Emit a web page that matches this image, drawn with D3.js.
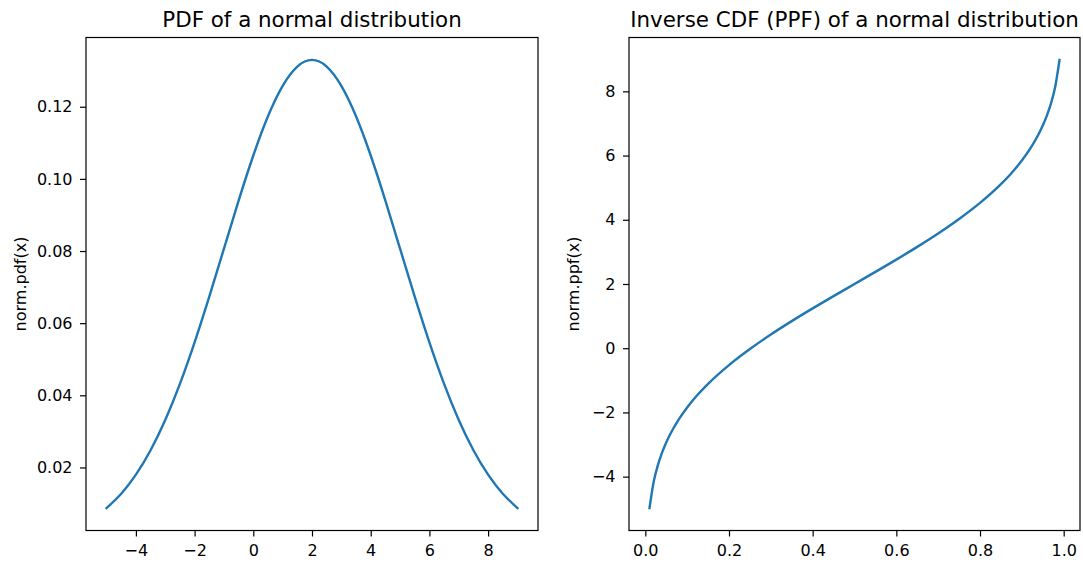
<!DOCTYPE html>
<html>
<head>
<meta charset="utf-8">
<script src="https://cdn.jsdelivr.net/npm/d3@7"></script>
<style>
  html, body { margin: 0; padding: 0; background: #fff; }
  svg { display: block; }
  text { font-family: "DejaVu Sans", sans-serif; fill: #000; }
</style>
</head>
<body>
<svg id="chart" width="1083" height="564"></svg>
<script>
// PDF panel data (x, norm.pdf(x))
const pdfX = [-5, -4.5, -4, -3.5, -3, -2.5, -2, -1.5, -1, -0.5, 0, 0.5, 1, 1.5, 2,
              2.5, 3, 3.5, 4, 4.5, 5, 5.5, 6, 6.5, 7, 7.5, 8, 8.5, 9];
const pdfY = [0.008738, 0.012720, 0.017997, 0.024771, 0.033159, 0.043172, 0.054670, 0.067337,
              0.080657, 0.093970, 0.106483, 0.117355, 0.125794, 0.131147, 0.132981,
              0.131147, 0.125794, 0.117355, 0.106483, 0.093970, 0.080657, 0.067337,
              0.054670, 0.043172, 0.033159, 0.024771, 0.017997, 0.012720, 0.008738];
// PPF panel data (q, norm.ppf(q))
const ppfQ = [0.01, 0.02, 0.03, 0.04, 0.05, 0.06, 0.08, 0.10, 0.125, 0.15, 0.2, 0.25, 0.3, 0.35,
              0.4, 0.45, 0.5, 0.55, 0.6, 0.65, 0.7, 0.75, 0.8, 0.85, 0.875, 0.9, 0.92, 0.94,
              0.95, 0.96, 0.97, 0.98, 0.99];
const ppfY = [-4.979, -4.161, -3.642, -3.252, -2.935, -2.664, -2.215, -1.845, -1.451, -1.109,
              -0.525, -0.024, 0.427, 0.844, 1.240, 1.623, 2.0, 2.377, 2.760, 3.156, 3.573,
              4.024, 4.525, 5.109, 5.451, 5.845, 6.215, 6.664, 6.935, 7.252, 7.642, 8.161, 8.979];

const pdfXTicks = [-4, -2, 0, 2, 4, 6, 8];
const pdfYTicks = [0.02, 0.04, 0.06, 0.08, 0.10, 0.12];
const ppfXTicks = [0.0, 0.2, 0.4, 0.6, 0.8, 1.0];
const ppfYTicks = [-4, -2, 0, 2, 4, 6, 8];

const titles = ["PDF of a normal distribution", "Inverse CDF (PPF) of a normal distribution"];
const yLabels = ["norm.pdf(x)", "norm.ppf(x)"];

const svg = d3.select("#chart");
const minus = s => s.replace(/-/g, "\u2212");

function padDomain(vals) {
  const [a, b] = d3.extent(vals);
  const m = (b - a) * 0.05;
  return [a - m, b + m];
}

function panel(opts) {
  const { left, right, top, bottom, xs, ys, xTicks, yTicks, xFmt, yFmt, title, ylabel, ylabelX, curve } = opts;
  const x = d3.scaleLinear().domain(padDomain(xs)).range([left, right]);
  const y = d3.scaleLinear().domain(padDomain(ys)).range([bottom, top]);
  const g = svg.append("g");

  const line = d3.line().x((d, i) => x(xs[i])).y((d, i) => y(ys[i])).curve(curve);
  g.append("path")
    .attr("d", line(xs))
    .attr("fill", "none")
    .attr("stroke", "#1f77b4")
    .attr("stroke-width", 2.4)
    .attr("stroke-linecap", "square");

  const xa = g.append("g").attr("transform", `translate(0,${bottom})`)
    .call(d3.axisBottom(x).tickValues(xTicks).tickFormat(d => minus(xFmt(d))).tickSize(6).tickPadding(8));
  const ya = g.append("g").attr("transform", `translate(${left},0)`)
    .call(d3.axisLeft(y).tickValues(yTicks).tickFormat(d => minus(yFmt(d))).tickSize(6).tickPadding(7.5));
  [xa, ya].forEach(a => {
    a.select(".domain").remove();
    a.selectAll("line").attr("stroke", "#000").attr("stroke-width", 1.2);
    a.selectAll("text").style("font-family", "DejaVu Sans").style("font-size", "16px").attr("fill", "#000");
  });

  g.append("rect")
    .attr("x", left).attr("y", top)
    .attr("width", right - left).attr("height", bottom - top)
    .attr("fill", "none").attr("stroke", "#000").attr("stroke-width", 1.2);

  g.append("text")
    .attr("x", (left + right) / 2).attr("y", top - 10.5)
    .attr("text-anchor", "middle")
    .style("font-size", "21.4px")
    .text(title);

  g.append("text")
    .attr("transform", `translate(${ylabelX},${(top + bottom) / 2}) rotate(-90)`)
    .attr("text-anchor", "middle")
    .style("font-size", "16px")
    .text(ylabel);
}

panel({
  left: 86, right: 538, top: 37.5, bottom: 530.5,
  xs: pdfX, ys: pdfY, xTicks: pdfXTicks, yTicks: pdfYTicks,
  xFmt: d3.format("d"), yFmt: d3.format(".2f"),
  title: titles[0], ylabel: yLabels[0], ylabelX: 26, curve: d3.curveNatural
});
panel({
  left: 629, right: 1080, top: 37.5, bottom: 530.5,
  xs: ppfQ, ys: ppfY, xTicks: ppfXTicks, yTicks: ppfYTicks,
  xFmt: d3.format(".1f"), yFmt: d3.format("d"),
  title: titles[1], ylabel: yLabels[1], ylabelX: 579, curve: d3.curveMonotoneX
});
</script>
</body>
</html>
